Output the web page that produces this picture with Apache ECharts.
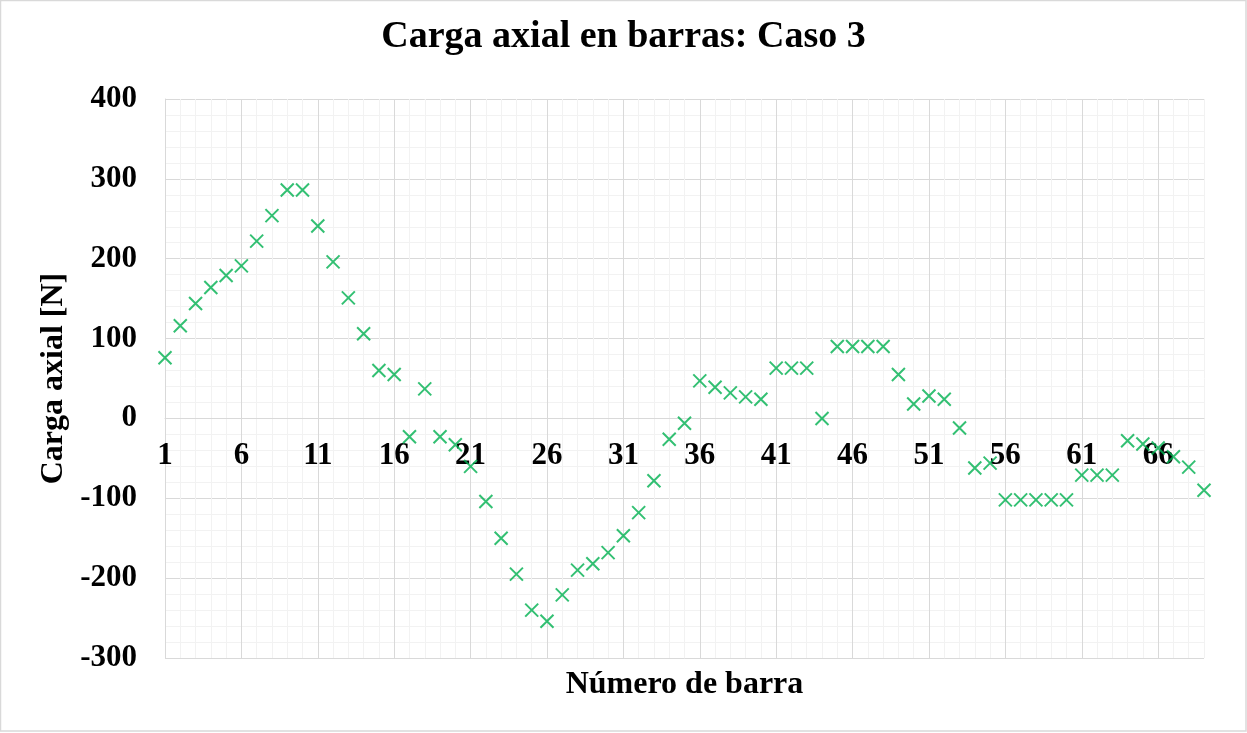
<!DOCTYPE html>
<html>
<head>
<meta charset="utf-8">
<title>Carga axial en barras: Caso 3</title>
<script src="https://cdn.jsdelivr.net/npm/echarts@6/dist/echarts.min.js"></script>
<style>
html, body { margin: 0; padding: 0; background: #fff; }
#chart { width: 1247px; height: 733px; }
</style>
</head>
<body>
<div id="chart"></div>
<script>
// número de barra
const barNumber = [
  1, 2, 3, 4, 5, 6, 7, 8, 9, 10, 11, 12, 13, 14, 15, 16, 17, 18, 19, 20,
  21, 22, 23, 24, 25, 26, 27, 28, 29, 30, 31, 32, 33, 34, 35, 36, 37, 38, 39, 40,
  41, 42, 43, 44, 45, 46, 47, 48, 49, 50, 51, 52, 53, 54, 55, 56, 57, 58, 59, 60,
  61, 62, 63, 64, 65, 66, 67, 68, 69
]
// carga axial [N]
const axialLoad = [
  76, 116, 144, 164, 179, 191, 222, 254, 286, 286,
  241, 196, 151, 106, 60, 55, -23, 37, -23, -33,
  -60, -104, -150, -195, -240, -254, -221, -190, -182, -168,
  -147, -118, -78, -26, -6, 47, 39, 32, 27, 24,
  63, 63, 63, 0, 90, 90, 90, 90, 55, 18,
  28, 24, -12, -62, -56, -102, -102, -102, -102, -102,
  -71, -71, -71, -28, -32, -37, -48, -61, -90
]
// etiquetas del eje x
const xLabelTicks = [1, 6, 11, 16, 21, 26, 31, 36, 41, 46, 51, 56, 61, 66]
const yMin = -300
const yMax = 400

const points = barNumber.map((n, i) => [n, axialLoad[i]])
const serif = "'Liberation Serif', 'Times New Roman', serif"
const major = "#d9d9d9"
const minor = "#f2f2f2"

// el eje x cruza en y = 0 (como en Excel)
const gridTop = 99
const gridBottom = 75
const plotH = 733 - gridTop - gridBottom
const zeroOffset = -plotH * (0 - yMin) / (yMax - yMin)

const chart = echarts.init(document.getElementById("chart"))
chart.setOption({
  animation: false,
  backgroundColor: "#fff",
  title: {
    text: "Carga axial en barras: Caso 3",
    left: "center",
    top: 18,
    padding: 0,
    textStyle: { fontFamily: serif, fontWeight: "bold", fontSize: 38, color: "#000" },
  },
  graphic: [
    {
      type: "rect",
      shape: { x: 0.5, y: 0.5, width: 1245.5, height: 730.5 },
      style: { fill: "none", stroke: major, lineWidth: 1.5 },
      silent: true,
    },
  ],
  grid: { left: 165, right: 43, top: gridTop, bottom: gridBottom, containLabel: false, outerBoundsMode: "none" },
  xAxis: {
    type: "value",
    min: 1,
    max: 69,
    interval: 1,
    position: "bottom",
    offset: zeroOffset,
    name: "Número de barra",
    nameLocation: "middle",
    nameGap: 250,
    nameTextStyle: { fontFamily: serif, fontWeight: "bold", fontSize: 32, color: "#000" },
    axisLine: { onZero: false, lineStyle: { color: major, width: 1 } },
    axisTick: { show: false },
    axisLabel: {
      margin: 22,
      fontFamily: serif,
      fontWeight: "bold",
      fontSize: 31,
      color: "#000",
      formatter: (v) => (xLabelTicks.includes(v) ? String(v) : ""),
    },
    splitLine: {
      show: true,
      lineStyle: { color: [major, minor, minor, minor, minor], width: 1 },
    },
  },
  yAxis: {
    type: "value",
    min: yMin,
    max: yMax,
    interval: 100,
    name: "Carga axial [N]",
    nameLocation: "middle",
    nameGap: 95,
    nameTextStyle: { fontFamily: serif, fontWeight: "bold", fontSize: 32, color: "#000" },
    axisLine: { show: true, onZero: false, lineStyle: { color: major, width: 1 } },
    axisTick: { show: false },
    axisLabel: { margin: 28, fontFamily: serif, fontWeight: "bold", fontSize: 31, color: "#000" },
    splitLine: { show: true, lineStyle: { color: major, width: 1 } },
    minorTick: { show: false, splitNumber: 5 },
    minorSplitLine: { show: true, lineStyle: { color: minor, width: 1 } },
  },
  series: [
    {
      name: "Carga axial",
      type: "scatter",
      data: points,
      symbol: "path://M0,0L10,10M10,0L0,10",
      symbolSize: 13,
      itemStyle: { color: "#00B050", borderColor: "#00B050", borderWidth: 2 },
      z: 5,
    },
  ],
})
</script>
</body>
</html>
